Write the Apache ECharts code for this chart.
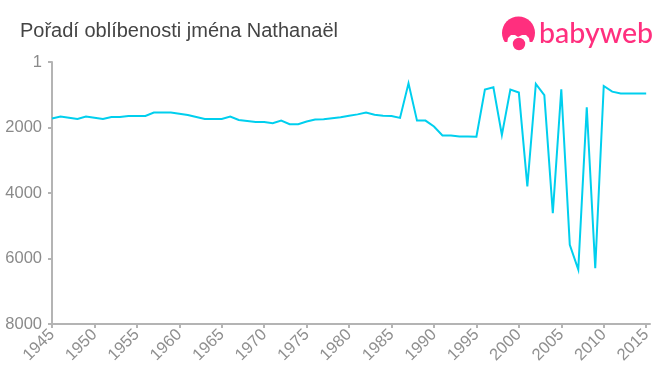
<!DOCTYPE html>
<html>
<head>
<meta charset="utf-8">
<style>html,body{margin:0;padding:0;background:#fff}#c{width:660px;height:375px}</style>
<script src="https://cdn.jsdelivr.net/npm/echarts@6/dist/echarts.min.js"></script>
</head>
<body>
<div id="c"></div>
<script>
const years = [1945,1946,1947,1948,1949,1950,1951,1952,1953,1954,1955,1956,1957,1958,1959,1960,1961,1962,1963,1964,1965,1966,1967,1968,1969,1970,1971,1972,1973,1974,1975,1976,1977,1978,1979,1980,1981,1982,1983,1984,1985,1986,1987,1988,1989,1990,1991,1992,1993,1994,1995,1996,1997,1998,1999,2000,2001,2002,2003,2004,2005,2006,2007,2008,2009,2010,2011,2012,2013,2014,2015];
const ranks = [1727,1667,1700,1740,1667,1700,1740,1680,1680,1650,1650,1650,1545,1545,1545,1580,1620,1680,1740,1740,1740,1667,1770,1800,1830,1830,1870,1790,1900,1900,1820,1760,1750,1720,1690,1640,1600,1545,1610,1640,1650,1708,650,1790,1790,1970,2245,2245,2275,2275,2280,843,773,2230,843,935,3800,670,1015,4615,833,5580,6340,1383,6300,732,905,965,965,965,965];
const yTicks = [1,2000,4000,6000,8000];
const xTicks = [1945,1950,1955,1960,1965,1970,1975,1980,1985,1990,1995,2000,2005,2010,2015];
const titleText = 'Pořadí oblíbenosti jména Nathanaël';
const logoText = 'babyweb';
const pink = '#ff2f7e';
const chart = echarts.init(document.getElementById('c'), null, {renderer:'canvas'});
chart.setOption({
  animation:false,
  backgroundColor:'#fff',
  grid:{left:52,right:10,top:62,bottom:51,containLabel:false},
  xAxis:{
    type:'value',min:1945,max:2015.45,
    axisLine:{show:true,onZero:false,lineStyle:{color:'#b4b4b4',width:2}},
    axisTick:{show:true,length:4,inside:false,customValues:xTicks,lineStyle:{color:'#b4b4b4',width:2}},
    axisLabel:{customValues:xTicks,rotate:45,margin:8,color:'#8f8f8f',fontSize:16.5,fontFamily:'Liberation Sans',formatter:v=>String(v)},
    splitLine:{show:false}
  },
  yAxis:{
    type:'value',inverse:true,min:1,max:8000,
    axisLine:{show:true,onZero:false,lineStyle:{color:'#b4b4b4',width:2}},
    axisTick:{show:true,length:4,customValues:yTicks,lineStyle:{color:'#b4b4b4',width:2}},
    axisLabel:{customValues:yTicks,margin:10,padding:[2,0,0,0],color:'#8a8a8a',fontSize:16.5,fontFamily:'Liberation Sans',formatter:v=>String(v)},
    splitLine:{show:false}
  },
  series:[{
    type:'line',data:years.map((y,i)=>[y,ranks[i]]),
    showSymbol:false,symbol:'none',smooth:false,
    lineStyle:{color:'#00cfee',width:2,join:'miter'},
    clip:false
  }],
  graphic:[
    {type:'text',left:20,top:21,style:{text:titleText,fontFamily:'Liberation Sans',fontSize:20,fill:'#444444'}},
    {type:'circle',shape:{cx:518.5,cy:33,r:16.5},style:{fill:pink}},
    {type:'rect',shape:{x:500,y:42,width:37,height:12},style:{fill:'#fff'}},
    {type:'polygon',shape:{points:[[507,44],[508,38],[511,35],[515,35],[518,37],[522,35],[526,35],[529,38],[530,44],[528,50],[509,50]]},style:{fill:'#fff'}},
    {type:'circle',shape:{cx:519,cy:44,r:6.2},style:{fill:pink}},
    {type:'text',left:539,top:19,style:{text:logoText,fontFamily:'Lato',fontSize:28.5,fontWeight:500,fill:pink}}
  ]
});
</script>
</body>
</html>
